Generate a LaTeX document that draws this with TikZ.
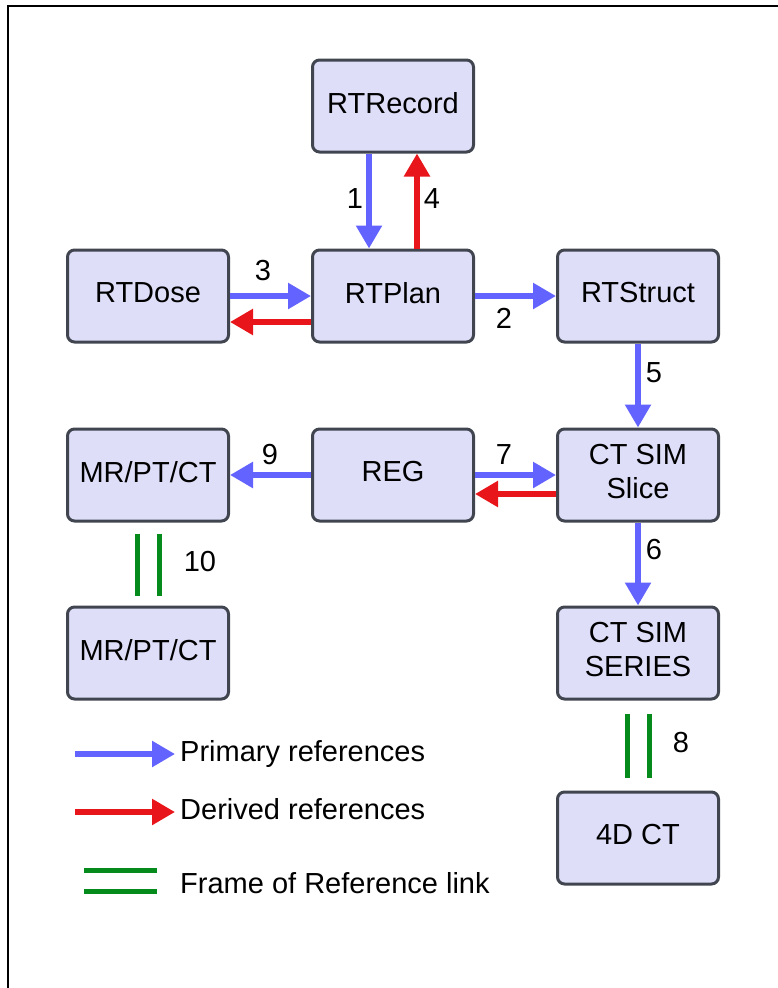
\documentclass[tikz,border=0pt]{standalone}
\usepackage{fontspec}
\setmainfont{Liberation Sans}
\usetikzlibrary{arrows.meta}
\definecolor{RefBlue}{HTML}{6363FF}
\definecolor{RefRed}{HTML}{E8161B}
\definecolor{RefGreen}{HTML}{058A1C}
\definecolor{BoxFill}{HTML}{DEDEF9}
\definecolor{BoxEdge}{HTML}{40454F}

\begin{document}
\begin{tikzpicture}[x=1pt,y=-1pt,
    dcm/.style={draw=BoxEdge,fill=BoxFill,line width=3pt,rounded corners=7pt,
      minimum width=161pt,minimum height=92pt,align=center,text depth=7pt,
      font=\fontsize{29}{34}\selectfont},
    primary/.style={RefBlue,line width=5.5pt,-{Triangle[length=23pt,width=25pt]}},
    derived/.style={RefRed,line width=5.5pt,-{Triangle[length=23pt,width=25pt]}},
    forlink/.style={RefGreen,line width=5pt},
    num/.style={font=\fontsize{29}{34}\selectfont}]
  \useasboundingbox (0,0) rectangle (778,988);
  % outer frame (top and left edges only)
  \draw[line width=2.2pt] (8,988) -- (8,6) -- (778,6);
  % DICOM objects
  \node[dcm] (rtrecord) at (393,106) {RTRecord};
  \node[dcm] (rtdose) at (148,296) {RTDose};
  \node[dcm] (rtplan) at (393,296) {RTPlan};
  \node[dcm] (rtstruct) at (638,296) {RTStruct};
  \node[dcm] (mrtop) at (148,475) {MR/PT/CT};
  \node[dcm] (reg) at (393,475) {REG};
  \node[dcm] (ctslice) at (638,475) {CT SIM\\Slice};
  \node[dcm] (mrbot) at (148,653) {MR/PT/CT};
  \node[dcm] (ctseries) at (638,653) {CT SIM\\SERIES};
  \node[dcm] (ct4d) at (638,838) {4D CT};
  % references
  \draw[primary] ([xshift=-24pt]rtrecord.south) -- ([xshift=-24pt]rtplan.north);
  \draw[derived] ([xshift=24pt]rtplan.north) -- ([xshift=24pt]rtrecord.south);
  \draw[primary] (rtdose.east) -- (rtplan.west);
  \draw[derived] ([yshift=-26pt]rtplan.west) -- ([yshift=-26pt]rtdose.east);
  \draw[primary] (rtplan.east) -- (rtstruct.west);
  \draw[primary] (rtstruct.south) -- (ctslice.north);
  \draw[primary] (reg.east) -- (ctslice.west);
  \draw[derived] ([yshift=-19pt]ctslice.west) -- ([yshift=-19pt]reg.east);
  \draw[primary] (reg.west) -- (mrtop.east);
  \draw[primary] (ctslice.south) -- (ctseries.north);
  % frame of reference links
  \draw[forlink] ([xshift=-11pt,yshift=-11pt]mrtop.south) -- ([xshift=-11pt,yshift=10pt]mrbot.north);
  \draw[forlink] ([xshift=11pt,yshift=-11pt]mrtop.south) -- ([xshift=11pt,yshift=10pt]mrbot.north);
  \draw[forlink] ([xshift=-11pt,yshift=-13pt]ctseries.south) -- ([xshift=-11pt,yshift=13pt]ct4d.north);
  \draw[forlink] ([xshift=11pt,yshift=-13pt]ctseries.south) -- ([xshift=11pt,yshift=13pt]ct4d.north);
  % numbers
  \node[num] (n1) at (355,199) {1};
  \node[num] (n2) at (504,318) {2};
  \node[num] (n3) at (263,271) {3};
  \node[num] (n4) at (432,199) {4};
  \node[num] (n5) at (654,373) {5};
  \node[num] (n6) at (654,550) {6};
  \node[num] (n7) at (504,455) {7};
  \node[num] (n8) at (681,743) {8};
  \node[num] (n9) at (270,455) {9};
  \node[num] (n10) at (200,562) {10};
  % legend
  \coordinate (pa) at (75,754);
  \coordinate (pb) at (175,754);
  \draw[primary] (pa) -- (pb);
  \node[num,anchor=base west,inner sep=0pt] (ptext) at (180,761) {Primary references};
  \coordinate (da) at (75,812);
  \coordinate (db) at (175,812);
  \draw[derived] (da) -- (db);
  \node[num,anchor=base west,inner sep=0pt] (dtext) at (180,819) {Derived references};
  \coordinate (fa) at (84,870);
  \coordinate (fb) at (157,870);
  \coordinate (fc) at (84,891);
  \coordinate (fd) at (157,891);
  \draw[forlink] (fa) -- (fb);
  \draw[forlink] (fc) -- (fd);
  \node[num,anchor=base west,inner sep=0pt] (ftext) at (180,893) {Frame of Reference link};
\end{tikzpicture}
\end{document}
